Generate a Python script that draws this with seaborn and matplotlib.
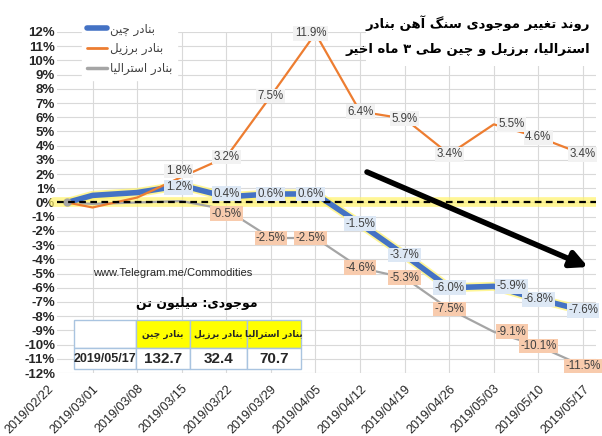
import matplotlib
matplotlib.use('Agg')
import matplotlib.pyplot as plt
import matplotlib.dates as mdates
import matplotlib.patheffects as pe
from matplotlib.lines import Line2D
from matplotlib.patches import Rectangle
import numpy as np
import pandas as pd
import seaborn as sns

# ---- data ----
tick_labels = ['2019/02/22', '2019/03/01', '2019/03/08', '2019/03/15', '2019/03/22', '2019/03/29',
               '2019/04/05', '2019/04/12', '2019/04/19', '2019/04/26', '2019/05/03', '2019/05/10',
               '2019/05/17']
point_dates = ['2019/02/25', '2019/03/01', '2019/03/08', '2019/03/15', '2019/03/22', '2019/03/29',
               '2019/04/05', '2019/04/12', '2019/04/19', '2019/04/26', '2019/05/03', '2019/05/10',
               '2019/05/17']
china = [0.0, 0.5, 0.7, 1.2, 0.4, 0.6, 0.6, -1.5, -3.7, -6.0, -5.9, -6.8, -7.6]
brazil = [0.0, -0.35, 0.35, 1.8, 3.2, 7.5, 11.9, 6.4, 5.9, 3.4, 5.5, 4.6, 3.4]
australia = [0.0, -0.1, 0.0, 0.1, -0.5, -2.5, -2.5, -4.6, -5.3, -7.5, -9.1, -10.1, -11.5]

series_names = ['بنادر چین', 'بنادر برزیل', 'بنادر استرالیا']
title_lines = ['روند تغییر موجودی سنگ آهن بنادر', 'استرالیا، برزیل و چین طی ۳ ماه اخیر']
unit_text = 'موجودی: میلیون تن'
source_text = 'www.Telegram.me/Commodities'
table_date = '2019/05/17'
table_values = [132.7, 32.4, 70.7]

# ---- very small arabic/persian shaper (matplotlib draws no bidi) ----
FORMS = {
    'ا': '\uFE8D\uFE8E', 'آ': '\uFE81\uFE82', 'د': '\uFEA9\uFEAA', 'ر': '\uFEAD\uFEAE',
    'ز': '\uFEAF\uFEB0', 'و': '\uFEED\uFEEE',
    'ب': '\uFE8F\uFE90\uFE91\uFE92', 'ت': '\uFE95\uFE96\uFE97\uFE98', 'ج': '\uFE9D\uFE9E\uFE9F\uFEA0',
    'چ': '\uFB7A\uFB7B\uFB7C\uFB7D', 'خ': '\uFEA5\uFEA6\uFEA7\uFEA8', 'س': '\uFEB1\uFEB2\uFEB3\uFEB4',
    'ط': '\uFEC1\uFEC2\uFEC3\uFEC4', 'غ': '\uFECD\uFECE\uFECF\uFED0', 'ل': '\uFEDD\uFEDE\uFEDF\uFEE0',
    'م': '\uFEE1\uFEE2\uFEE3\uFEE4', 'ن': '\uFEE5\uFEE6\uFEE7\uFEE8', 'ه': '\uFEE9\uFEEA\uFEEB\uFEEC',
    'ی': '\uFBFC\uFBFD\uFBFE\uFBFF', 'گ': '\uFB92\uFB93\uFB94\uFB95',
}
RIGHT_ONLY = set('اآدرزو')


def fa(text):
    out = []
    for i, ch in enumerate(text):
        if ch not in FORMS:
            out.append(ch)
            continue
        prev = text[i - 1] if i > 0 else ''
        nxt = text[i + 1] if i < len(text) - 1 else ''
        jp = prev in FORMS and prev not in RIGHT_ONLY
        jn = nxt in FORMS and ch not in RIGHT_ONLY
        f = FORMS[ch]
        if jp and jn:
            out.append(f[3])
        elif jp:
            out.append(f[1])
        elif jn:
            out.append(f[2])
        else:
            out.append(f[0])
    return ''.join(reversed(out))


sns.set_style('white')
plt.rcParams['font.family'] = ['Liberation Sans Narrow', 'Liberation Sans', 'DejaVu Sans']
FA = ['DejaVu Sans']

x_pts = mdates.date2num(pd.to_datetime(point_dates, format='%Y/%m/%d'))
x_ticks = mdates.date2num(pd.to_datetime(tick_labels, format='%Y/%m/%d'))

fig = plt.figure(figsize=(6.02, 4.36), dpi=100)
ax = fig.add_axes([46 / 602, 1 - 373 / 436, 550 / 602, 341 / 436])

blue, orange, grey = '#4472c4', '#ed7d31', '#a5a5a5'
glow = [pe.Stroke(linewidth=6.5, foreground='#fff36a', alpha=0.7), pe.Normal()]

sns.lineplot(x=x_pts, y=australia, ax=ax, color=grey, lw=1.6, zorder=3)
sns.lineplot(x=x_pts, y=china, ax=ax, color=blue, lw=4, zorder=4, path_effects=glow)
sns.lineplot(x=x_pts, y=brazil, ax=ax, color=orange, lw=1.6, zorder=5)
ax.plot(x_pts[:1], australia[:1], 'o', color=grey, ms=5, zorder=6)

# zero line with yellow highlight
ax.axhline(0, xmin=0.015, color='#fff36a', lw=7, alpha=0.7, zorder=2.5)
ax.axhline(0, xmin=0.02, color='black', lw=1.6, dashes=(3, 2), zorder=7)

# data labels (first labelled index per series, box colour)
label_style = [('china', china, '#dde8f5', 3), ('brazil', brazil, '#f2f2f2', 3),
               ('australia', australia, '#f8cbad', 4)]
x_shift = {3: -3, 6: -5, 10: 18}
y_shift = {('brazil', 3): 6, ('china', 3): -2, ('china', 4): 3, ('australia', 4): -4}
for name, values, face, first in label_style:
    for i in range(first, len(values)):
        ax.annotate('{:.1f}%'.format(values[i]), (x_pts[i], values[i]),
                    xytext=(x_shift.get(i, 0), y_shift.get((name, i), 0)), textcoords='offset pixels',
                    ha='center', va='center', fontsize=8.3, color='#404040', zorder=8,
                    bbox=dict(boxstyle='square,pad=0.12', fc=face, ec='none'))

ax.set_ylim(-12, 12)
ax.set_yticks(np.arange(-12, 13, 1))
ax.set_yticklabels(['{}%'.format(v) for v in range(-12, 13)], fontsize=9.5, fontweight='bold')
ax.set_xticks(x_ticks)
ax.set_xticklabels(tick_labels, rotation=45, ha='right', rotation_mode='anchor', fontsize=9, color='#262626')
ax.set_xlim(x_ticks[0] - 0.31, x_ticks[-1] + 2.05)
ax.tick_params(axis='y', length=0, pad=-6.5)
ax.tick_params(axis='x', length=0, pad=7)
for lbl in ax.get_yticklabels():
    lbl.set_bbox(dict(fc='white', ec='none', pad=1.5))
ax.set_axisbelow(True)
ax.grid(True, color='#d9d9d9', lw=0.8)
for s in ax.spines.values():
    s.set_visible(False)

# legend
handles = [Line2D([], [], color=blue, lw=4, solid_capstyle='round'),
           Line2D([], [], color=orange, lw=2),
           Line2D([], [], color=grey, lw=2.5)]
leg = fig.legend(handles, [fa(n) for n in series_names], loc='upper left',
                 bbox_to_anchor=(76 / 602, 1 - 12 / 436), frameon=True, fancybox=False,
                 edgecolor='white', facecolor='white', framealpha=1, handlelength=1.7,
                 handletextpad=0.3, labelspacing=0.55, borderpad=0.4, prop={'family': FA, 'size': 8.5})
for t in leg.get_texts():
    t.set_color('#404040')

# title on a white box
fig.patches.append(Rectangle((366 / 602, 1 - 66 / 436), 234 / 602, 58 / 436, transform=fig.transFigure,
                             fc='white', ec='none', zorder=2))
fig.text(590 / 602, 1 - 23 / 436, fa(title_lines[0]), ha='right', va='center', fontsize=9.5,
         fontweight='bold', family=FA, color='black', zorder=3)
fig.text(590 / 602, 1 - 49 / 436, fa(title_lines[1]), ha='right', va='center', fontsize=9.5,
         fontweight='bold', family=FA, color='black', zorder=3)

# arrow
ax.annotate('', xy=(588 / 602, 1 - 267 / 436), xytext=(367 / 602, 1 - 172 / 436),
            xycoords='figure fraction', textcoords='figure fraction',
            arrowprops=dict(arrowstyle='-|>', color='black', lw=4, mutation_scale=25,
                            shrinkA=0, shrinkB=0), zorder=9)

# source and unit text
fig.text(173 / 602, 1 - 273 / 436, source_text, ha='center', va='center', fontsize=8,
         family=['Liberation Sans', 'DejaVu Sans'], color='#262626')
fig.text(197 / 602, 1 - 303 / 436, fa(unit_text), ha='center', va='center', fontsize=9,
         fontweight='bold', family=FA, color='black')

# table
cells = [[''] + [fa(n) for n in series_names],
         [table_date] + ['{:.1f}'.format(v) for v in table_values]]
tab = ax.table(cellText=cells, cellLoc='center',
               colWidths=[62, 54, 57, 54],
               bbox=[(74 - 46) / 550, (373 - 369) / 341, 227 / 550, 49 / 341])
tab.auto_set_font_size(False)
for (r, c), cell in tab.get_celld().items():
    cell.set_edgecolor('#a9c4e0')
    cell.set_linewidth(1)
    cell.set_height(28 if r == 0 else 21)
    cell.PAD = 0.02
    txt = cell.get_text()
    if r == 0:
        cell.set_facecolor('#ffff00' if c > 0 else 'white')
        txt.set_fontfamily(FA)
        txt.set_fontsize(6.5)
        txt.set_fontweight('bold')
    else:
        cell.set_facecolor('white')
        txt.set_fontweight('bold')
        txt.set_fontsize(9 if c == 0 else 11)
tab.set_zorder(10)

fig.savefig('out.png', dpi=100)
